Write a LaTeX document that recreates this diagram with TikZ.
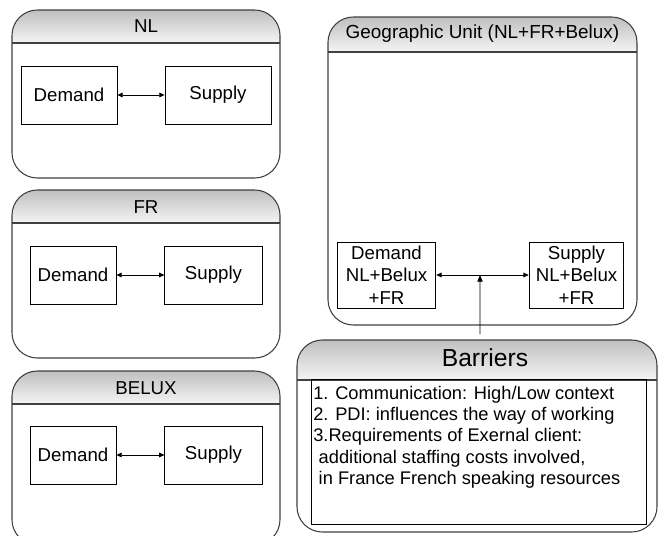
\documentclass[tikz,border=0pt]{standalone}
\usepackage{fontspec}
\setmainfont{Liberation Sans}
\usetikzlibrary{arrows.meta,calc}

\tikzset{
  unitbox/.style={draw=black!75,line width=0.8pt,rounded corners=19pt},
  headfill/.style={top color=black!25,bottom color=black!4},
  flowbox/.style={draw,line width=0.6pt,align=center,inner sep=1pt},
  link/.style={line width=0.6pt,{Triangle[length=4pt,width=3.5pt]}-{Triangle[length=4pt,width=3.5pt]}}
}

\begin{document}
\begin{tikzpicture}[x=0.75pt,y=-0.75pt,font=\fontsize{14}{16}\selectfont]
\clip (0,0) rectangle (658,536);

% NL
\begin{scope}
\begin{scope}
\clip[rounded corners=19pt] (12,10) rectangle (280,178);
\shade[headfill] (12,10) rectangle (280,43);
\end{scope}
\draw[unitbox] (12,10) rectangle (280,178);
\draw[black!75,line width=0.8pt] (12,43) -- (280,43);
\node at (146,26) {NL};
\node[flowbox,minimum width=72pt,minimum height=43.5pt] (nldem) at (69,95) {Demand};
\node[flowbox,minimum width=79.5pt,minimum height=43.5pt] (nlsup) at (218,95) {Supply};
\draw[link] (nldem) -- (nlsup);
\end{scope}

% FR
\begin{scope}
\begin{scope}
\clip[rounded corners=19pt] (12,190) rectangle (280,358);
\shade[headfill] (12,190) rectangle (280,223);
\end{scope}
\draw[unitbox] (12,190) rectangle (280,358);
\draw[black!75,line width=0.8pt] (12,223) -- (280,223);
\node at (146,207) {FR};
\node[flowbox,minimum width=64.5pt,minimum height=43.5pt] (frdem) at (73,275) {Demand};
\node[flowbox,minimum width=73pt,minimum height=43.5pt] (frsup) at (213.5,275) {Supply};
\draw[link] (frdem) -- (frsup);
\end{scope}

% BELUX
\begin{scope}
\begin{scope}
\clip[rounded corners=19pt] (12,371) rectangle (280,545);
\shade[headfill] (12,371) rectangle (280,404);
\end{scope}
\draw[unitbox] (12,371) rectangle (280,545);
\draw[black!75,line width=0.8pt] (12,404) -- (280,404);
\node at (146,388) {BELUX};
\node[flowbox,minimum width=64.5pt,minimum height=43.5pt] (bedem) at (73,455) {Demand};
\node[flowbox,minimum width=73pt,minimum height=43.5pt] (besup) at (213.5,455) {Supply};
\draw[link] (bedem) -- (besup);
\end{scope}

% Geographic unit
\begin{scope}
\begin{scope}
\clip[rounded corners=19pt] (328,17) rectangle (637,325);
\shade[headfill] (328,17) rectangle (637,52);
\end{scope}
\draw[unitbox] (328,17) rectangle (637,325);
\draw[black!75,line width=0.8pt] (328,52) -- (637,52);
\node[font=\fontsize{14.2}{16}\selectfont] at (482.5,34) {Geographic Unit (NL+FR+Belux)};
\node[flowbox,minimum width=74pt,minimum height=49.5pt,font=\fontsize{14}{17}\selectfont] (gudem) at (386.5,275) {Demand\\NL+Belux\\+FR};
\node[flowbox,minimum width=71pt,minimum height=49.5pt,font=\fontsize{14}{17}\selectfont] (gusup) at (576.5,275) {Supply\\NL+Belux\\+FR};
\draw[link] (gudem) -- (gusup);
\coordinate (gumid) at ($(gudem.east)!0.473!(gusup.west)$);
\end{scope}

% Barriers
\begin{scope}
\begin{scope}
\clip[rounded corners=19pt] (297,340) rectangle (657,532);
\shade[headfill] (297,340) rectangle (657,380);
\end{scope}
\draw[unitbox] (297,340) rectangle (657,532);
\draw[black!75,line width=0.8pt] (297,380) -- (657,380);
\node[font=\fontsize{18.5}{20}\selectfont] (bartitle) at (485,358) {Barriers};
\draw[line width=0.6pt] (311,379) rectangle (646,524);
\node[anchor=north west,align=left,inner sep=0pt,font=\fontsize{13.7}{15.9}\selectfont] (barlist) at (313,386)
  {1. Communication: High/Low context\\
   2. PDI: influences the way of working\\
   3.Requirements of Exernal client:\\
   \hspace*{0.3em}additional staffing costs involved,\\
   \hspace*{0.3em}in France French speaking resources};
\coordinate (bartop) at (480,334);
\end{scope}

\draw[line width=0.6pt,-{Triangle[length=5pt,width=4pt]}] (bartop) -- (gumid);

\end{tikzpicture}
\end{document}
